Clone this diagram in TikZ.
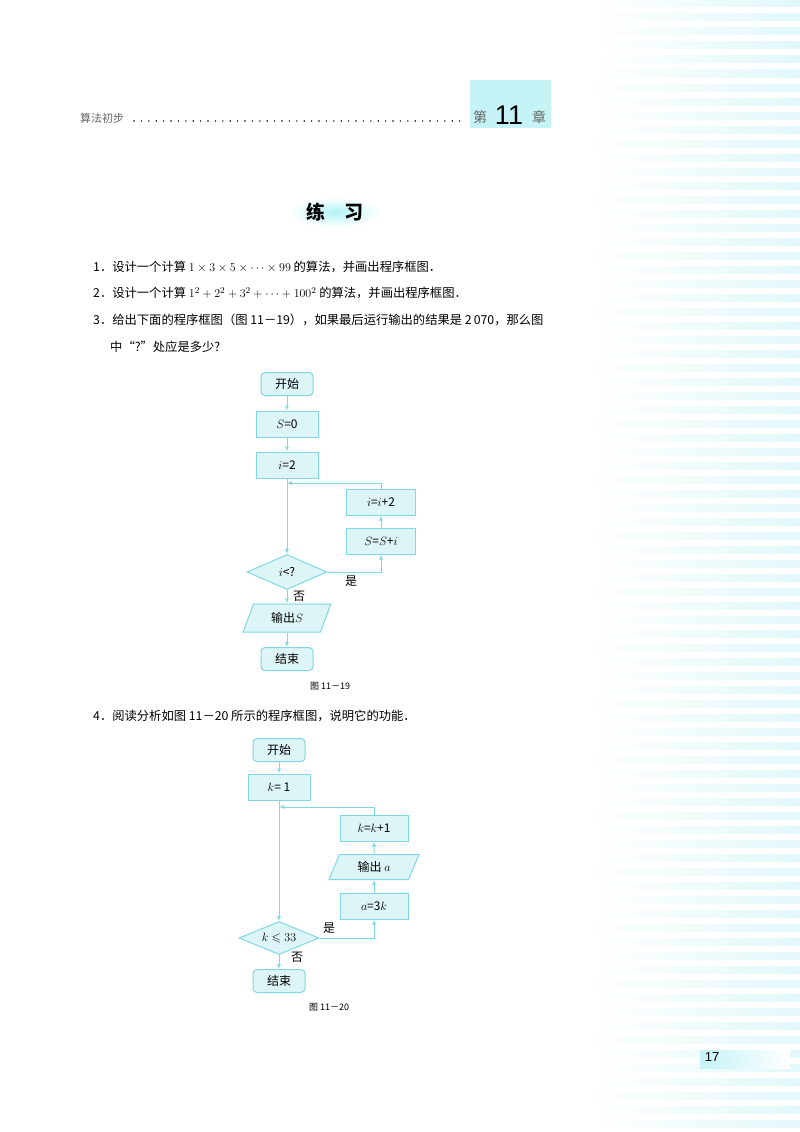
\documentclass[tikz,border=0pt]{standalone}
\usepackage{amssymb}
\usepackage{fontspec}
\setmainfont{Liberation Serif}
\newfontfamily\cjk{Noto Sans CJK SC}
\newfontfamily\hd{Liberation Sans}
\usetikzlibrary{shapes.geometric,arrows.meta}
\definecolor{ln}{HTML}{7FD8E4}
\definecolor{fl}{HTML}{DDF5F7}
\definecolor{bar}{HTML}{C6F3F6}
\definecolor{st}{HTML}{E2F8FA}
\begin{document}
\begin{tikzpicture}[x=1pt,y=-1pt,
 every node/.style={font=\cjk\fontsize{12}{14}\selectfont},
 proc/.style={draw=ln,fill=fl,line width=1pt,minimum width=62pt,minimum height=26pt,inner sep=1pt},
 term/.style={draw=ln,fill=fl,line width=1pt,rounded corners=4pt,minimum width=52pt,minimum height=23pt,inner sep=1pt},
 dec/.style={draw=ln,fill=fl,line width=1pt,diamond,aspect=2.3,minimum width=80pt,minimum height=35pt,inner sep=0pt},
 io/.style={draw=ln,fill=fl,line width=1pt,trapezium,trapezium left angle=68,trapezium right angle=112,trapezium stretches=true,minimum width=88pt,minimum height=28pt,inner sep=1pt},
 arr/.style={draw=ln,line width=1pt,-{Latex[length=5pt,width=4pt]}},
 txt/.style={anchor=west,inner sep=0pt,font=\cjk\fontsize{12.3}{14}\selectfont},
 lab/.style={inner sep=0pt,font=\cjk\fontsize{12}{14}\selectfont}]
\useasboundingbox (0,0) rectangle (800,1132);
\fill[white] (0,0) rectangle (800,1132);
% stripes
\foreach \y in {0,14,...,1132}{
 \shade[left color=white,right color=st] (590,\y) rectangle (800,\y+7);}
% header
\fill[bar] (470,80) rectangle (551,128);
\node[txt,text=gray!80!black,font=\cjk\fontsize{11}{13}\selectfont] (h1) at (80,118) {算法初步};
\coordinate (d1) at (134,121);
\coordinate (d2) at (460,121);
\draw[line width=1.6pt,line cap=round,dash pattern=on 0pt off 7.4pt] (d1) -- (d2);
\node[lab,text=gray!80!black,font=\cjk\fontsize{14}{16}\selectfont] (h2) at (480,117) {第};
\node[lab,font=\hd\fontsize{27}{29}\selectfont] (h3) at (509,115) {11};
\node[lab,text=gray!80!black,font=\cjk\fontsize{14}{16}\selectfont] (h4) at (539,117) {章};
% title
\shade[inner color=bar!90!cyan,outer color=white] (335,212) ellipse (46 and 15);
\node[lab,font=\cjk\bfseries\fontsize{19}{21}\selectfont] (t) at (335,212) {练\quad 习};
% texts
\node[txt] (l1) at (93,267) {1．设计一个计算 $1\times3\times5\times\cdots\times99$ 的算法，并画出程序框图．};
\node[txt] (l2) at (93,293) {2．设计一个计算 $1^2+2^2+3^2+\cdots+100^2$ 的算法，并画出程序框图．};
\node[txt] (l3) at (93,320) {3．给出下面的程序框图（图 11－19），如果最后运行输出的结果是 2\,070，那么图};
\node[txt] (l3b) at (110,347) {中“?”处应是多少?};
\node[txt] (l4) at (93,716) {4．阅读分析如图 11－20 所示的程序框图，说明它的功能．};
% chart 1
\node[term] (a1) at (287,384) {开始};
\node[proc] (a2) at (287,424) {$S$=0};
\node[proc] (a3) at (287,465) {$i$=2};
\node[proc,minimum width=69pt] (a4) at (381,502) {$i$=$i$+2};
\node[proc,minimum width=69pt] (a5) at (381,541) {$S$=$S$+$i$};
\node[dec] (a6) at (287,572) {$i$<?};
\node[io] (a7) at (287,618) {输出$S$};
\node[term] (a8) at (287,659) {结束};
\coordinate (j1) at (287,483);
\path[arr] (a1) -- (a2);
\path[arr] (a2) -- (a3);
\path[arr] (a3) -- (a6);
\path[arr] (a6) -- (a7);
\path[arr] (a7) -- (a8);
\path[arr] (a6.east) -| (a5.south);
\path[arr] (a5) -- (a4);
\path[arr] (a4.north) |- (j1);
\node[lab] (y1) at (351,581) {是};
\node[lab] (n1) at (299,596) {否};
\node[lab,font=\cjk\fontsize{9}{11}\selectfont] (c1) at (330,686) {图 11－19};
% chart 2
\node[term] (b1) at (279,750) {开始};
\node[proc] (b2) at (279,787) {$k$= 1};
\node[proc,minimum width=68pt] (b3) at (374,828) {$k$=$k$+1};
\node[io,minimum width=90pt,minimum height=25pt] (b4) at (374,867) {输出 $a$};
\node[proc,minimum width=68pt] (b5) at (374,906) {$a$=3$k$};
\node[dec,minimum height=33pt] (b6) at (279,938) {$k\leqslant33$};
\node[term] (b7) at (279,981) {结束};
\coordinate (j2) at (279,807);
\path[arr] (b1) -- (b2);
\path[arr] (b2) -- (b6);
\path[arr] (b6) -- (b7);
\path[arr] (b6.east) -| (b5.south);
\path[arr] (b5) -- (b4);
\path[arr] (b4) -- (b3);
\path[arr] (b3.north) |- (j2);
\node[lab] (y2) at (329,928) {是};
\node[lab] (n2) at (297,957) {否};
\node[lab,font=\cjk\fontsize{9}{11}\selectfont] (c2) at (329,1007) {图 11－20};
% page number
\shade[left color=bar,right color=white] (700,1050) rectangle (790,1068);
\node[lab,font=\hd\fontsize{13}{15}\selectfont] (pn) at (712,1057) {17};
\end{tikzpicture}
\end{document}
